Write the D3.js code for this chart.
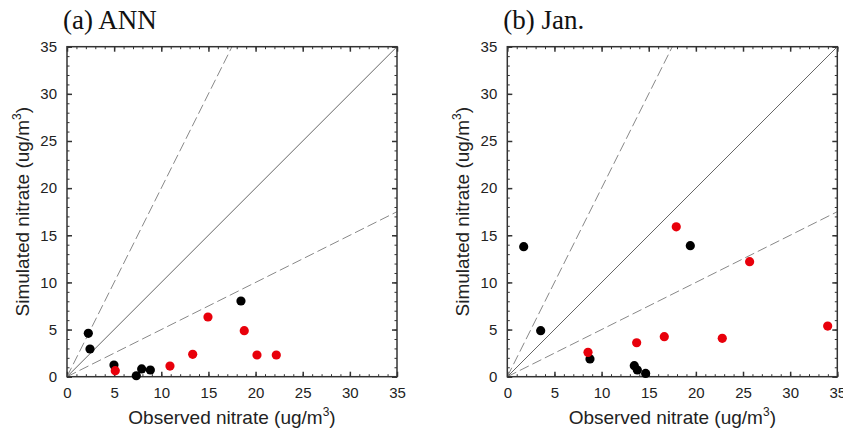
<!DOCTYPE html>
<html>
<head>
<meta charset="utf-8">
<script src="https://cdn.jsdelivr.net/npm/d3@7"></script>
<style>
  html, body { margin: 0; padding: 0; background: #fff; }
  svg { display: block; }
</style>
</head>
<body>
<svg id="chart" width="843" height="429"></svg>
<script>
// Observed vs simulated nitrate (ug/m3), two site groups per panel
const panelTitles = ["(a) ANN", "(b) Jan."];
const tickValues = [0, 5, 10, 15, 20, 25, 30, 35];

const annBlackObs = [2.26, 2.44, 4.98, 7.35, 7.92, 8.84, 18.45];
const annBlackSim = [4.6, 2.94, 1.24, 0.1, 0.82, 0.71, 8.03];
const annRedObs = [5.12, 10.92, 13.33, 14.95, 18.8, 20.15, 22.2];
const annRedSim = [0.64, 1.13, 2.37, 6.33, 4.88, 2.3, 2.3];

const janBlackObs = [1.74, 3.54, 8.77, 13.47, 13.79, 14.67, 19.41];
const janBlackSim = [13.79, 4.88, 1.88, 1.17, 0.71, 0.35, 13.9];
const janRedObs = [8.56, 13.72, 16.65, 17.92, 22.8, 25.7, 33.98];
const janRedSim = [2.58, 3.6, 4.24, 15.9, 4.07, 12.2, 5.37];

// reference lines: slope 1 (solid), 2 and 0.5 (dashed)
const refSlopes = [1, 2, 0.5];

const panels = [
  { title: panelTitles[0], left: 67, black: [annBlackObs, annBlackSim], red: [annRedObs, annRedSim] },
  { title: panelTitles[1], left: 507.3, black: [janBlackObs, janBlackSim], red: [janRedObs, janRedSim] }
];

const svg = d3.select("#chart");
const plotSize = 330, plotTop = 46.7;
const sans = "'Liberation Sans', Arial, Helvetica, sans-serif";

panels.forEach(p => {
  const g = svg.append("g").attr("transform", `translate(${p.left},${plotTop})`);
  const x = d3.scaleLinear().domain([0, 35]).range([0, plotSize]);
  const y = d3.scaleLinear().domain([0, 35]).range([plotSize, 0]);
  const minor = d3.range(0, 36, 1);

  // minor ticks on all four sides, pointing inward
  const minorAxes = [
    [d3.axisBottom(x), `translate(0,${plotSize})`],
    [d3.axisTop(x), "translate(0,0)"],
    [d3.axisLeft(y), "translate(0,0)"],
    [d3.axisRight(y), `translate(${plotSize},0)`]
  ];
  minorAxes.forEach(([ax, tr]) => {
    g.append("g").attr("transform", tr)
      .call(ax.tickValues(minor).tickSize(-2.5).tickFormat(""))
      .call(s => s.select(".domain").remove())
      .call(s => s.selectAll("line").attr("stroke", "#333").attr("stroke-width", 1));
  });

  // major ticks, labelled on bottom and left
  const majorAxes = [
    [d3.axisBottom(x), `translate(0,${plotSize})`, 11],
    [d3.axisTop(x), "translate(0,0)", null],
    [d3.axisLeft(y), "translate(0,0)", 10],
    [d3.axisRight(y), `translate(${plotSize},0)`, null]
  ];
  majorAxes.forEach(([ax, tr, pad]) => {
    ax.tickValues(tickValues).tickSizeInner(-5).tickSizeOuter(0).tickPadding(pad || 0);
    if (pad === null) ax.tickFormat("");
    g.append("g").attr("transform", tr).call(ax)
      .call(s => s.select(".domain").remove())
      .call(s => s.selectAll("line").attr("stroke", "#333").attr("stroke-width", 1.5))
      .call(s => s.selectAll("text").attr("font-size", 15).attr("fill", "#222").attr("font-family", sans));
  });

  // clip reference lines to the plot frame
  const clipId = "clip" + p.left.toFixed(0);
  g.append("clipPath").attr("id", clipId).append("rect").attr("width", plotSize).attr("height", plotSize);

  refSlopes.forEach(s => {
    const xEnd = Math.min(35, 35 / s);
    g.append("line")
      .attr("clip-path", `url(#${clipId})`)
      .attr("x1", x(0)).attr("y1", y(0))
      .attr("x2", x(xEnd)).attr("y2", y(xEnd * s))
      .attr("stroke", s === 1 ? "#666" : "#888")
      .attr("stroke-width", 1)
      .attr("stroke-dasharray", s === 1 ? null : "10,4");
  });

  // plot frame
  g.append("rect").attr("width", plotSize).attr("height", plotSize)
    .attr("fill", "none").attr("stroke", "#333").attr("stroke-width", 1.5);

  // markers
  const drawDots = (series, color) => {
    const pts = series[0].map((v, i) => [v, series[1][i]]);
    g.selectAll(null).data(pts).enter().append("circle")
      .attr("cx", d => x(d[0])).attr("cy", d => y(d[1]))
      .attr("r", 4.6).attr("fill", color);
  };
  drawDots(p.black, "#000");
  drawDots(p.red, "#e8000b");

  // panel title
  g.append("text").attr("x", -4).attr("y", -18)
    .attr("font-family", "'Liberation Serif', 'Times New Roman', serif")
    .attr("font-size", 27).attr("fill", "#111").text(p.title);

  // axis titles
  const xt = g.append("text").attr("x", plotSize / 2).attr("y", 377.5)
    .attr("text-anchor", "middle").attr("font-family", sans)
    .attr("font-size", 19).attr("fill", "#222");
  xt.append("tspan").text("Observed nitrate (ug/m");
  xt.append("tspan").attr("font-size", 12).attr("dy", -8).text("3");
  xt.append("tspan").attr("dy", 8).text(")");

  const yt = g.append("text")
    .attr("transform", `translate(-38,${plotSize / 2}) rotate(-90)`)
    .attr("text-anchor", "middle").attr("font-family", sans)
    .attr("font-size", 19).attr("fill", "#222");
  yt.append("tspan").text("Simulated nitrate (ug/m");
  yt.append("tspan").attr("font-size", 12).attr("dy", -8).text("3");
  yt.append("tspan").attr("dy", 8).text(")");
});
</script>
</body>
</html>
